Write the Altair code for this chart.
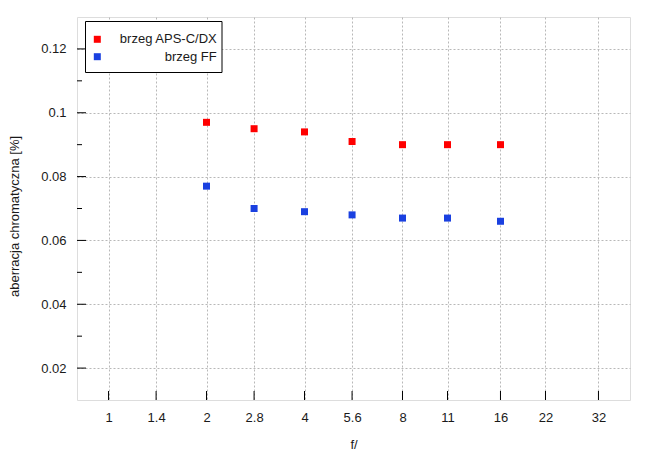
import altair as alt
import pandas as pd

# ---- data ----
f_stops = [2, 2.8, 4, 5.6, 8, 11, 16]
aps_c = [0.097, 0.095, 0.094, 0.091, 0.090, 0.090, 0.090]
ff = [0.077, 0.070, 0.069, 0.068, 0.067, 0.067, 0.066]
series_names = ["brzeg APS-C/DX", "brzeg FF"]
series_colors = ["#ff0000", "#1a40e0"]
x_ticks = [1, 1.4, 2, 2.8, 4, 5.6, 8, 11, 16, 22, 32]
y_major = [0.02, 0.04, 0.06, 0.08, 0.1, 0.12]
y_minor = [0.03, 0.05, 0.07, 0.09, 0.11]

W, H = 553, 383
FONT = "Liberation Sans"
FS = 13
TXT = "#1a1a1a"

df = pd.DataFrame({
    "f": f_stops * 2,
    "v": aps_c + ff,
    "s": [series_names[0]] * len(f_stops) + [series_names[1]] * len(f_stops),
})

x_scale = alt.Scale(type="log", domain=[0.8, 40], nice=False)
y_scale = alt.Scale(domain=[0.01, 0.13], nice=False, zero=False)

x_axis = alt.Axis(values=x_ticks, format="~g", title="f/", domain=False, ticks=False,
                  tickSize=0, labelPadding=11, grid=True, gridColor="#b8b8b8",
                  gridDash=[2, 2], labelFont=FONT, labelFontSize=FS, labelColor=TXT,
                  titleFont=FONT, titleFontSize=FS, titleColor=TXT, titleFontWeight="normal",
                  titleY=48, titleBaseline="alphabetic", labelFlush=False, labelOverlap=False)
y_axis = alt.Axis(values=y_major, format="~g", title="aberracja chromatyczna [%]",
                  domain=False, ticks=False, tickSize=0, labelPadding=11, grid=True,
                  gridColor="#b8b8b8", gridDash=[2, 2], labelFont=FONT, labelFontSize=FS,
                  labelColor=TXT, titleFont=FONT, titleFontSize=FS, titleColor=TXT,
                  titleFontWeight="normal", titleX=-63, titleY=199, titleAlign="center",
                  titleBaseline="middle", titleAngle=-90, labelFlush=False, labelOverlap=False)

X = lambda field: alt.X(field, type="quantitative", scale=x_scale, axis=x_axis)
Y = lambda field: alt.Y(field, type="quantitative", scale=y_scale, axis=y_axis)

points = alt.Chart(df).mark_square(size=49, opacity=1, strokeWidth=0).encode(
    x=X("f"),
    y=Y("v"),
    color=alt.Color("s:N", scale=alt.Scale(domain=series_names, range=series_colors), legend=None),
)

xt = pd.DataFrame({"t": x_ticks})
ymaj = pd.DataFrame({"t": y_major})
ymin = pd.DataFrame({"t": y_minor})

x_tick_marks = alt.Chart(xt).mark_rule(color="black", strokeWidth=1).encode(
    x=X("t"), y=alt.value(H), y2=alt.value(H - 9))
y_major_marks = alt.Chart(ymaj).mark_rule(color="black", strokeWidth=1).encode(
    y=Y("t"), x=alt.value(0), x2=alt.value(9))
y_minor_marks = alt.Chart(ymin).mark_rule(color="black", strokeWidth=1).encode(
    y=Y("t"), x=alt.value(0), x2=alt.value(5))

one = pd.DataFrame({"a": [0]})
legend_box = alt.Chart(one).mark_rect(fill="white", stroke="black", strokeWidth=1).encode(
    x=alt.value(8.5), x2=alt.value(145), y=alt.value(4.5), y2=alt.value(55.5))

legend_layers = [legend_box]
row_y = [22.3, 39.7]
for name, col, ry in zip(series_names, series_colors, row_y):
    d = pd.DataFrame({"s": [name]})
    legend_layers.append(alt.Chart(d).mark_square(size=49, color=col, opacity=1, strokeWidth=0).encode(
        x=alt.value(20.3), y=alt.value(ry)))
    legend_layers.append(alt.Chart(d).mark_text(align="right", baseline="middle", font=FONT,
                                                fontSize=FS, color=TXT).encode(
        text="s:N", x=alt.value(139.7), y=alt.value(ry)))

chart = alt.layer(points, x_tick_marks, y_major_marks, y_minor_marks, *legend_layers).properties(
    width=W, height=H,
    autosize=alt.AutoSizeParams(type="none"),
    padding={"left": 69, "top": 9, "right": 10, "bottom": 54},
).configure_view(stroke="black", strokeWidth=1).configure(background="white")

chart.save("out.html", embed_options={"renderer": "svg", "actions": False})
